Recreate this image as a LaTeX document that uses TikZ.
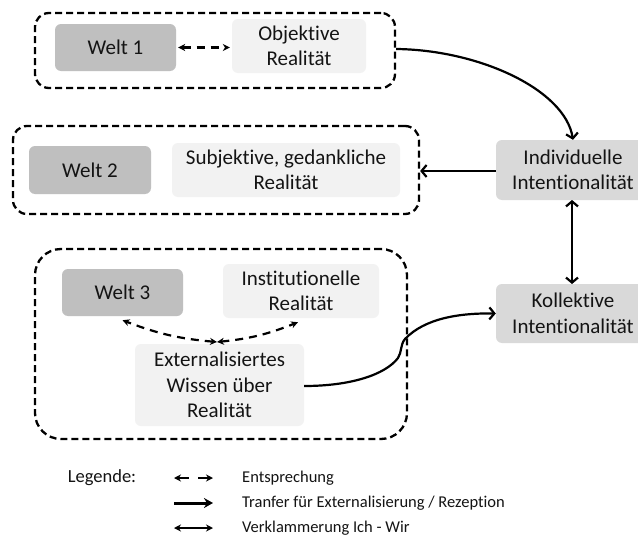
\documentclass[tikz,border=0pt]{standalone}
\usepackage{fontspec}
\setmainfont{Carlito}[Ligatures=NoCommon]
\usetikzlibrary{arrows.meta}
\definecolor{weltgray}{HTML}{BFBFBF}
\definecolor{lightgray}{HTML}{F2F2F2}
\definecolor{midgray}{HTML}{D9D9D9}
\definecolor{txt}{HTML}{141414}
\newcommand{\mainsize}{\fontsize{21}{25.5}\selectfont}
\newcommand{\legsize}{\fontsize{16.5}{20}\selectfont}
\tikzset{
  basebox/.style={draw=none, rounded corners=6pt, align=center, font=\mainsize, text=txt, inner sep=0pt},
  darkbox/.style={basebox, fill=weltgray},
  lightbox/.style={basebox, fill=lightgray},
  midbox/.style={basebox, fill=midgray},
  groupbox/.style={draw=black, line width=2.3pt, dash pattern=on 7pt off 4pt, rounded corners=#1, inner sep=0pt},
  flow/.style={line width=2.2pt, -{Straight Barb[length=5pt,width=12pt,line width=2.2pt]}},
  bothflow/.style={line width=2.2pt, {Straight Barb[length=5pt,width=12pt,line width=2.2pt]}-{Straight Barb[length=5pt,width=12pt,line width=2.2pt]}},
  corr/.style={line width=2.2pt, dash pattern=on 8pt off 6pt, {Stealth[length=7pt,width=7pt]}-{Stealth[length=7pt,width=7pt]}},
  legtext/.style={anchor=west, font=\legsize, text=txt, inner sep=0pt}
}
\begin{document}
\begin{tikzpicture}[x=1pt,y=-1pt]
\clip (0,0) rectangle (638,538);
\fill[white] (0,0) rectangle (638,538);

% groups
\node[groupbox=14pt, minimum width=360pt, minimum height=75pt] (g1) at (215,50.5) {};
\node[groupbox=14pt, minimum width=406pt, minimum height=88pt] (g2) at (216,170) {};
\node[groupbox=26pt, minimum width=372pt, minimum height=190pt] (g3) at (221,344) {};

% boxes
\node[darkbox, minimum width=121pt, minimum height=47pt] (w1) at (115.5,47.5) {Welt 1};
\node[lightbox, minimum width=134pt, minimum height=54pt] (obj) at (299,46) {Objektive\\Realität};
\node[darkbox, minimum width=122pt, minimum height=48pt] (w2) at (90,170) {Welt 2};
\node[lightbox, minimum width=228pt, minimum height=54pt] (subj) at (286,170) {Subjektive, gedankliche\\Realität};
\node[midbox, minimum width=154pt, minimum height=60pt] (ind) at (573,170) {Individuelle\\Intentionalität};
\node[darkbox, minimum width=121pt, minimum height=47pt] (w3) at (122.5,292.5) {Welt 3};
\node[lightbox, minimum width=156pt, minimum height=54pt] (inst) at (301,291) {Institutionelle\\Realität};
\node[lightbox, minimum width=169pt, minimum height=82pt] (ext) at (219.5,385) {Externalisiertes\\Wissen über\\Realität};
\node[midbox, minimum width=154pt, minimum height=59pt] (kol) at (573,313.5) {Kollektive\\Intentionalität};

% connectors
\draw[corr, shorten <=2pt, shorten >=2pt] (w1.east) -- (obj.west |- w1.east);
\draw[flow] (g1.east |- 0,49) .. controls (480,50) and (565,90) .. (ind.north);
\draw[flow] (ind.west |- 0,171) -- (g2.east |- 0,171);
\draw[bothflow] (572,200) coordinate (ia) -- (572,284) coordinate (kb);
\draw[flow] (ext.east |- 0,386) .. controls (350,386) and (385,375) .. (398,358)
  .. controls (402,352) and (400,345) .. (405,339)
  .. controls (425,318) and (460,313) .. (kol.west);
\coordinate (m) at (217,342);
\draw[corr] (m) to[bend left=8] ([yshift=-4pt]w3.south);
\draw[corr] (m) to[bend right=8] ([xshift=-3pt,yshift=-4pt]inst.south);

% legend
\node[anchor=center, font=\fontsize{18.5}{22}\selectfont, text=txt, inner sep=0pt] (leg) at (102,478) {Legende:};
\coordinate (l1a) at (174,478); \coordinate (l1b) at (213,478);
\coordinate (l2a) at (174,503); \coordinate (l2b) at (213,503);
\coordinate (l3a) at (174,528); \coordinate (l3b) at (213,528);
\draw[line width=2pt, dash pattern=on 11pt off 9pt, {Stealth[length=7pt,width=7pt]}-{Stealth[length=7pt,width=7pt]}] (l1a) -- (l1b);
\draw[line width=3pt, -{Stealth[length=9pt,width=10pt]}] (l2a) -- (l2b);
\draw[line width=2pt, {Stealth[length=7pt,width=7pt]}-{Stealth[length=7pt,width=7pt]}] (l3a) -- (l3b);
\node[legtext] (t1) at (242,478) {Entsprechung};
\node[legtext] (t2) at (242,503) {Tranfer für Externalisierung / Rezeption};
\node[legtext] (t3) at (242,528) {Verklammerung Ich - Wir};
\end{tikzpicture}
\end{document}
